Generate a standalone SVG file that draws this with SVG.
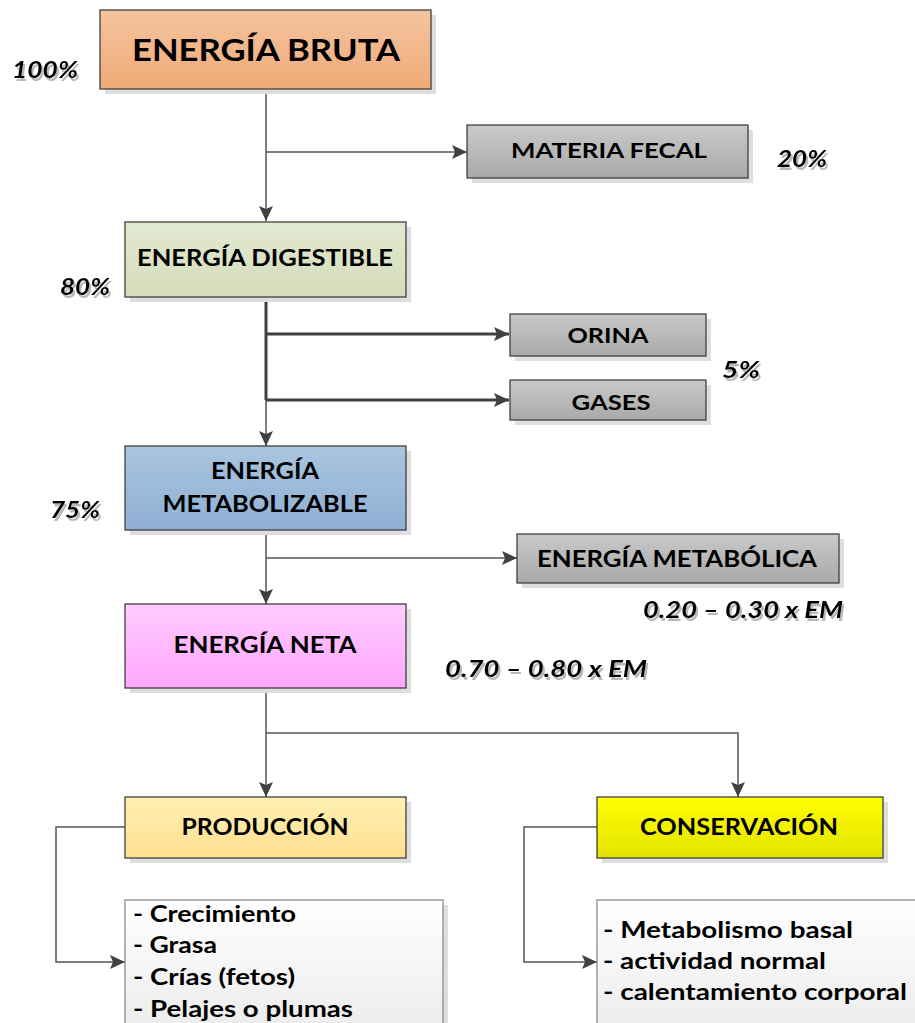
<svg xmlns="http://www.w3.org/2000/svg" width="915" height="1023" viewBox="0 0 915 1023">
<defs>
<linearGradient id="gBruta" x1="0" y1="0" x2="0" y2="1"><stop offset="0" stop-color="#f5c4a0"/><stop offset="1" stop-color="#eeaa76"/></linearGradient>
<linearGradient id="gDig" x1="0" y1="0" x2="0" y2="1"><stop offset="0" stop-color="#e2e9d2"/><stop offset="1" stop-color="#d4dcba"/></linearGradient>
<linearGradient id="gMet" x1="0" y1="0" x2="0" y2="1"><stop offset="0" stop-color="#a9c5e0"/><stop offset="1" stop-color="#8eb0d3"/></linearGradient>
<linearGradient id="gNeta" x1="0" y1="0" x2="0" y2="1"><stop offset="0" stop-color="#ffccff"/><stop offset="1" stop-color="#ffa6ff"/></linearGradient>
<linearGradient id="gProd" x1="0" y1="0" x2="0" y2="1"><stop offset="0" stop-color="#fff0b3"/><stop offset="1" stop-color="#ffe08f"/></linearGradient>
<linearGradient id="gCons" x1="0" y1="0" x2="0" y2="1"><stop offset="0" stop-color="#ffff00"/><stop offset="1" stop-color="#e3e300"/></linearGradient>
<linearGradient id="gGrey" x1="0" y1="0" x2="0" y2="1"><stop offset="0" stop-color="#c9c9c9"/><stop offset="1" stop-color="#a9a9a9"/></linearGradient>
<linearGradient id="gList" x1="0" y1="0" x2="0" y2="1"><stop offset="0" stop-color="#ffffff"/><stop offset="1" stop-color="#ececec"/></linearGradient>
<filter id="tsh" x="-10%" y="-30%" width="130%" height="180%">
<feOffset in="SourceAlpha" dx="2" dy="3" result="o"/>
<feGaussianBlur in="o" stdDeviation="0.6" result="b"/>
<feFlood flood-color="#9a9a9a" flood-opacity="0.7"/>
<feComposite operator="in" in2="b" result="s"/>
<feMerge><feMergeNode in="s"/><feMergeNode in="SourceGraphic"/></feMerge>
</filter>
<marker id="arr" markerUnits="userSpaceOnUse" markerWidth="16" markerHeight="14" refX="15" refY="7" orient="auto">
<path d="M0,0 L15,7 L0,14 L3,7 z" fill="#404040"/>
</marker>
</defs>
<style>
.box{stroke:#404040;stroke-width:1.3}
.list{stroke:#8a8a8a;stroke-width:1.3}
.sh{fill:#dedede}
.t{font-family:Lato,"Open Sans","Liberation Sans",sans-serif;font-weight:700;fill:#000;text-anchor:middle}
.l{font-family:Lato,"Open Sans","Liberation Sans",sans-serif;font-weight:700;fill:#000;font-size:23px}
.p{font-family:Lato,"Open Sans","Liberation Sans",sans-serif;font-weight:700;font-style:italic;font-size:22px;fill:#000;filter:url(#tsh)}
.c{fill:none;stroke:#555;stroke-width:1.5}
.ck{fill:none;stroke:#404040;stroke-width:3}
</style>

<g id="connectors">
<path class="c" d="M266,89 V221" marker-end="url(#arr)"/>
<path class="c" d="M266,152 H467" marker-end="url(#arr)"/>
<path class="ck" d="M266,297 V400"/>
<path class="c" d="M266,400 V446" marker-end="url(#arr)"/>
<path class="ck" d="M266,334 H509" marker-end="url(#arr)"/>
<path class="ck" d="M266,400 H509" marker-end="url(#arr)"/>
<path class="c" d="M266,530 V604" marker-end="url(#arr)"/>
<path class="c" d="M266,558 H517" marker-end="url(#arr)"/>
<path class="c" d="M266,688 V797" marker-end="url(#arr)"/>
<path class="c" d="M266,733 H738 V797" marker-end="url(#arr)"/>
<path class="c" d="M125,827 H56 V962 H125" marker-end="url(#arr)"/>
<path class="c" d="M597,827 H524 V962 H597" marker-end="url(#arr)"/>
</g>

<g id="bruta">
<rect class="sh" x="105" y="15" width="331" height="79"/>
<rect class="box" x="100" y="10" width="331" height="79" fill="url(#gBruta)"/>
<text class="t" x="266" y="61" font-size="30" textLength="268" lengthAdjust="spacingAndGlyphs">ENERGÍA BRUTA</text>
</g>
<g id="p100">
<text class="p" x="12" y="78" textLength="66" lengthAdjust="spacingAndGlyphs">100%</text>
</g>

<g id="fecal">
<rect class="sh" x="472" y="130" width="281" height="53"/>
<rect class="box" x="467" y="125" width="281" height="53" fill="url(#gGrey)"/>
<text class="t" x="609" y="158" font-size="21" textLength="196" lengthAdjust="spacingAndGlyphs">MATERIA FECAL</text>
</g>
<g id="p20">
<text class="p" x="777" y="167" textLength="50" lengthAdjust="spacingAndGlyphs">20%</text>
</g>

<g id="digestible">
<rect class="sh" x="130" y="227" width="281" height="75"/>
<rect class="box" x="125" y="222" width="281" height="75" fill="url(#gDig)"/>
<text class="t" x="265" y="266" font-size="22" textLength="256" lengthAdjust="spacingAndGlyphs">ENERGÍA DIGESTIBLE</text>
</g>
<g id="p80">
<text class="p" x="60" y="295" textLength="50" lengthAdjust="spacingAndGlyphs">80%</text>
</g>

<g id="orina">
<rect class="sh" x="515" y="319" width="196" height="42"/>
<rect class="box" x="510" y="314" width="196" height="42" fill="url(#gGrey)"/>
<text class="t" x="608" y="343" font-size="21" textLength="81" lengthAdjust="spacingAndGlyphs">ORINA</text>
</g>
<g id="gases">
<rect class="sh" x="515" y="385" width="196" height="40"/>
<rect class="box" x="510" y="380" width="196" height="40" fill="url(#gGrey)"/>
<text class="t" x="611" y="410" font-size="21" textLength="79" lengthAdjust="spacingAndGlyphs">GASES</text>
</g>
<g id="p5">
<text class="p" x="722" y="378" textLength="38" lengthAdjust="spacingAndGlyphs">5%</text>
</g>

<g id="metabolizable">
<rect class="sh" x="130" y="451" width="281" height="84"/>
<rect class="box" x="125" y="446" width="281" height="84" fill="url(#gMet)"/>
<text class="t" x="265" y="479" font-size="22" textLength="108" lengthAdjust="spacingAndGlyphs">ENERGÍA</text>
<text class="t" x="265" y="512" font-size="22" textLength="205" lengthAdjust="spacingAndGlyphs">METABOLIZABLE</text>
</g>
<g id="p75">
<text class="p" x="50" y="518" textLength="50" lengthAdjust="spacingAndGlyphs">75%</text>
</g>

<g id="metabolica">
<rect class="sh" x="522" y="539" width="322" height="49"/>
<rect class="box" x="517" y="534" width="322" height="49" fill="url(#gGrey)"/>
<text class="t" x="677" y="567" font-size="22" textLength="280" lengthAdjust="spacingAndGlyphs">ENERGÍA METABÓLICA</text>
</g>
<g id="em1">
<text class="p" x="643" y="618" textLength="200" lengthAdjust="spacingAndGlyphs">0.20 – 0.30 x EM</text>
</g>

<g id="neta">
<rect class="sh" x="130" y="609" width="281" height="84"/>
<rect class="box" x="125" y="604" width="281" height="84" fill="url(#gNeta)"/>
<text class="t" x="265" y="653" font-size="22" textLength="183" lengthAdjust="spacingAndGlyphs">ENERGÍA NETA</text>
</g>
<g id="em2">
<text class="p" x="445" y="677" textLength="202" lengthAdjust="spacingAndGlyphs">0.70 – 0.80 x EM</text>
</g>

<g id="produccion">
<rect class="sh" x="130" y="802" width="281" height="61"/>
<rect class="box" x="125" y="797" width="281" height="61" fill="url(#gProd)"/>
<text class="t" x="265" y="835" font-size="22" textLength="167" lengthAdjust="spacingAndGlyphs">PRODUCCIÓN</text>
</g>

<g id="conservacion">
<rect class="sh" x="602" y="802" width="286" height="61"/>
<rect class="box" x="597" y="797" width="286" height="61" fill="url(#gCons)" stroke="#5a5a00"/>
<text class="t" x="739" y="835" font-size="22" textLength="198" lengthAdjust="spacingAndGlyphs">CONSERVACIÓN</text>
</g>

<g id="lista-produccion">
<rect class="sh" x="130" y="905" width="318" height="130"/>
<rect class="list" x="125" y="900" width="318" height="130" fill="url(#gList)"/>
<text class="l" x="133" y="922" textLength="163" lengthAdjust="spacingAndGlyphs">- Crecimiento</text>
<text class="l" x="133" y="953" textLength="84" lengthAdjust="spacingAndGlyphs">- Grasa</text>
<text class="l" x="133" y="985" textLength="162" lengthAdjust="spacingAndGlyphs">- Crías (fetos)</text>
<text class="l" x="133" y="1017" textLength="220" lengthAdjust="spacingAndGlyphs">- Pelajes o plumas</text>
</g>

<g id="lista-conservacion">
<rect class="list" x="597" y="900" width="330" height="130" fill="url(#gList)"/>
<text class="l" x="603" y="938" textLength="250" lengthAdjust="spacingAndGlyphs">- Metabolismo basal</text>
<text class="l" x="603" y="969" textLength="223" lengthAdjust="spacingAndGlyphs">- actividad normal</text>
<text class="l" x="603" y="1000" textLength="304" lengthAdjust="spacingAndGlyphs">- calentamiento corporal</text>
</g>
</svg>
